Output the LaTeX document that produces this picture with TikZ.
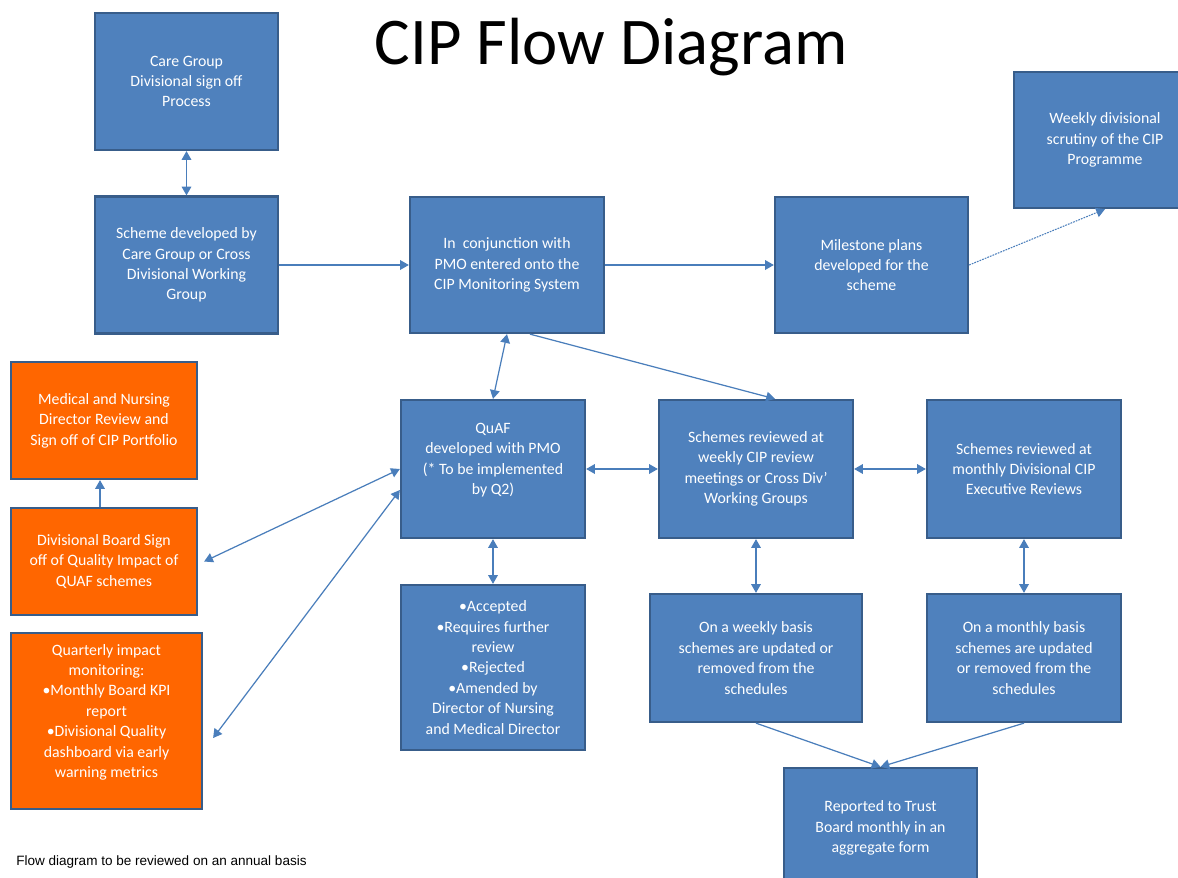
\documentclass[tikz,border=0pt]{standalone}
\usepackage{fontspec}
\setmainfont{Carlito}
\newfontfamily\notefont{Liberation Sans}
\usetikzlibrary{arrows.meta}
\definecolor{boxblue}{HTML}{4F81BD}
\definecolor{boxline}{HTML}{385D8A}
\definecolor{boxorange}{HTML}{FF6600}
\definecolor{linkblue}{HTML}{4A7EBB}
\begin{document}
\begin{tikzpicture}[x=0.02cm, y=-0.02cm,
    main/.style = {draw=boxline, fill=boxblue, line width=1.3pt, rectangle, text=white, align=center,
                   font=\fontsize{9}{11.6}\selectfont, inner sep=2pt},
    warn/.style = {main, fill=boxorange},
    link/.style = {draw=linkblue, line width=0.7pt, -{Triangle[length=5pt,width=5.5pt]}},
    both/.style = {link, {Triangle[length=5pt,width=5.5pt]}-{Triangle[length=5pt,width=5.5pt]}}]
    \useasboundingbox (0,0) rectangle (1178,877);
    \clip (0,0) rectangle (1178,877);
    \node (title) at (611,47) {\fontsize{38}{44}\selectfont CIP Flow Diagram};
    \node[main, minimum width=3.66cm, minimum height=2.74cm] (care) at (186.5,81.5) {Care Group\\Divisional sign off\\Process};
    \node[main, minimum width=3.66cm, minimum height=2.74cm] (scheme) at (186.5,265) {Scheme developed by\\Care Group or Cross\\Divisional Working\\Group};
    \node[main, minimum width=3.88cm, minimum height=2.72cm] (pmo) at (507,265) {In~ conjunction with\\PMO entered onto the\\CIP Monitoring System};
    \node[main, minimum width=3.86cm, minimum height=2.72cm] (milestone) at (871.5,265) {Milestone plans\\developed for the\\scheme};
    \node[main, minimum width=3.64cm, minimum height=2.72cm] (scrutiny) at (1105,140) {Weekly divisional\\scrutiny of the CIP\\Programme};
    \node[warn, minimum width=3.72cm, minimum height=2.34cm] (director) at (104,420.5) {Medical and Nursing\\Director Review and\\Sign off of CIP Portfolio};
    \node[warn, minimum width=3.72cm, minimum height=2.14cm] (board) at (104,561.5) {Divisional Board Sign\\off of Quality Impact of\\QUAF schemes};
    \node[warn, minimum width=3.82cm, minimum height=3.52cm] (quarterly) at (106.5,721) {Quarterly impact\\monitoring:\\•Monthly Board KPI\\report\\•Divisional Quality\\dashboard via early\\warning metrics\\\mbox{}};
    \node[main, minimum width=3.68cm, minimum height=2.76cm] (quaf) at (493,469) {QuAF\\developed with PMO\\(* To be implemented\\by Q2)\\\mbox{}};
    \node[main, minimum width=3.68cm, minimum height=3.3cm] (outcome) at (493,667.5) {•Accepted\\•Requires further\\review\\•Rejected\\•Amended by\\Director of Nursing\\and Medical Director};
    \node[main, minimum width=3.88cm, minimum height=2.76cm] (weekly) at (756,469) {Schemes reviewed at\\weekly CIP review\\meetings or Cross Div’\\Working Groups};
    \node[main, minimum width=3.88cm, minimum height=2.76cm] (monthly) at (1024,469) {Schemes reviewed at\\monthly Divisional CIP\\Executive Reviews};
    \node[main, minimum width=4.24cm, minimum height=2.56cm] (wupdate) at (756,658) {On a weekly basis\\schemes are updated or\\removed from the\\schedules};
    \node[main, minimum width=3.88cm, minimum height=2.56cm] (mupdate) at (1024,658) {On a monthly basis\\schemes are updated\\or removed from the\\schedules};
    \node[main, minimum width=3.86cm, minimum height=2.4cm] (trust) at (880.5,828) {Reported to Trust\\Board monthly in an\\aggregate form};
    \node[anchor=west, inner sep=0pt] (note) at (16,862) {\notefont\fontsize{7.7}{9}\selectfont Flow diagram to be reviewed on an annual basis};
    % connectors
    \draw[both] (care) -- (scheme);
    \draw[link] (scheme) -- (pmo);
    \draw[link] (pmo) -- (milestone);
    \draw[link, dash pattern=on 1pt off 0.6pt, line width=0.6pt] (milestone.east) -- (scrutiny.south);
    \draw[both] (pmo.south) -- (quaf.north);
    \draw[link] ([xshift=0.46cm]pmo.south) -- ([xshift=0.38cm]weekly.north);
    \draw[both] (quaf) -- (weekly);
    \draw[both] (weekly) -- (monthly);
    \draw[both] (quaf) -- (outcome);
    \draw[both] (weekly) -- (wupdate);
    \draw[both] (monthly) -- (mupdate);
    \draw[link] (wupdate.south) -- (trust.north);
    \draw[link] (mupdate.south) -- (trust.north);
    \draw[link] ([xshift=-0.08cm]board.north) -- ([xshift=-0.08cm]director.south);
    \draw[both] (quaf.west) -- ([xshift=0.12cm]board.east);
    \draw[both] ([yshift=-0.42cm]quaf.west) -- ([xshift=0.2cm,yshift=-0.34cm]quarterly.east);
\end{tikzpicture}
\end{document}
